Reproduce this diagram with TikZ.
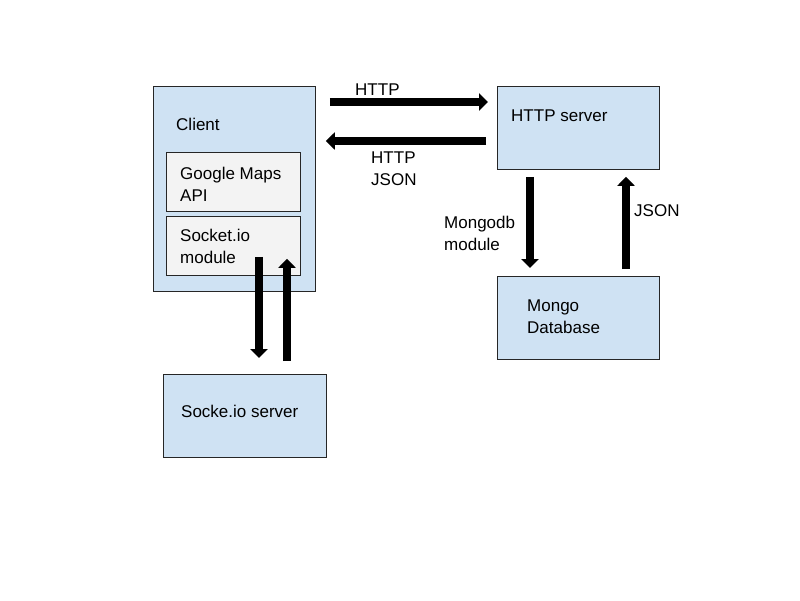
\documentclass[tikz,border=0pt]{standalone}
\usepackage{fontspec}
\setmainfont{Liberation Sans}
\usepackage{tikz}
\usetikzlibrary{arrows.meta,positioning}
\definecolor{boxblue}{HTML}{CFE2F3}
\definecolor{boxgray}{HTML}{F3F3F3}
\definecolor{boxline}{HTML}{262626}
\begin{document}
\begin{tikzpicture}[x=1pt,y=-1pt,
                    fatarrow/.style={line width=8pt,-{Triangle[length=9pt,width=17pt]}}]
  \tikzstyle{bluebox}=[draw=boxline,fill=boxblue,line width=0.8pt,anchor=north west,inner sep=0pt]
  \tikzstyle{graybox}=[draw=boxline,fill=boxgray,line width=0.8pt,anchor=north west,inner sep=0pt]
  \tikzstyle{txt}=[anchor=west,inner sep=0pt,align=left,font=\fontsize{17}{22}\selectfont]

  \useasboundingbox (0,0) rectangle (800,600);

  % boxes
  \node[bluebox,minimum width=162pt,minimum height=205pt] (client) at (153,86) {};
  \node[graybox,minimum width=134pt,minimum height=59pt]  (gmaps)  at (166,152) {};
  \node[graybox,minimum width=134pt,minimum height=59pt]  (sockmod) at (166,216) {};
  \node[bluebox,minimum width=162pt,minimum height=83pt]  (http)   at (497,86) {};
  \node[bluebox,minimum width=162pt,minimum height=83pt]  (mongo)  at (497,276) {};
  \node[bluebox,minimum width=163pt,minimum height=83pt]  (socksrv) at (163,374) {};

  % box texts
  \node[txt] (clienttxt)  at ([xshift=23pt,yshift=-38pt]client.north west) {Client};
  \node[txt] (gmapstxt)   at ([xshift=14pt,yshift=-2pt]gmaps.west) {Google Maps\\API};
  \node[txt] (sockmodtxt) at ([xshift=14pt,yshift=-1pt]sockmod.west) {Socket.io\\module};
  \node[txt] (httptxt)    at ([xshift=14pt,yshift=-30pt]http.north west) {HTTP server};
  \node[txt] (mongotxt)   at ([xshift=30pt,yshift=1pt]mongo.west) {Mongo\\Database};
  \node[txt] (socksrvtxt) at ([xshift=18pt,yshift=4pt]socksrv.west) {Socke.io server};

  % connectors
  \draw[fatarrow] ([xshift=14pt,yshift=-16pt]client.north east) -- ([xshift=-9pt,yshift=-16pt]http.north west);
  \draw[fatarrow] ([xshift=-11pt,yshift=-55pt]http.north west) -- ([xshift=10pt,yshift=-55pt]client.north east);
  \draw[fatarrow] ([xshift=33pt,yshift=-7pt]http.south west) -- ([xshift=33pt,yshift=8pt]mongo.north west);
  \draw[fatarrow] ([xshift=129pt,yshift=7pt]mongo.north west) -- ([xshift=129pt,yshift=-7pt]http.south west);
  \draw[fatarrow] ([xshift=93pt,yshift=19pt]sockmod.south west) -- ([xshift=96pt,yshift=16pt]socksrv.north west);
  \draw[fatarrow] ([xshift=124pt,yshift=13pt]socksrv.north west) -- ([xshift=121pt,yshift=17pt]sockmod.south west);

  % connector labels
  \node[txt] (httpreq)  at (355,90) {HTTP};
  \node[txt] (httpresp) at (371,169) {HTTP\\JSON};
  \node[txt] (mongomod) at (444,233) {Mongodb\\module};
  \node[txt] (jsonlbl)  at (634,211) {JSON};
\end{tikzpicture}
\end{document}
